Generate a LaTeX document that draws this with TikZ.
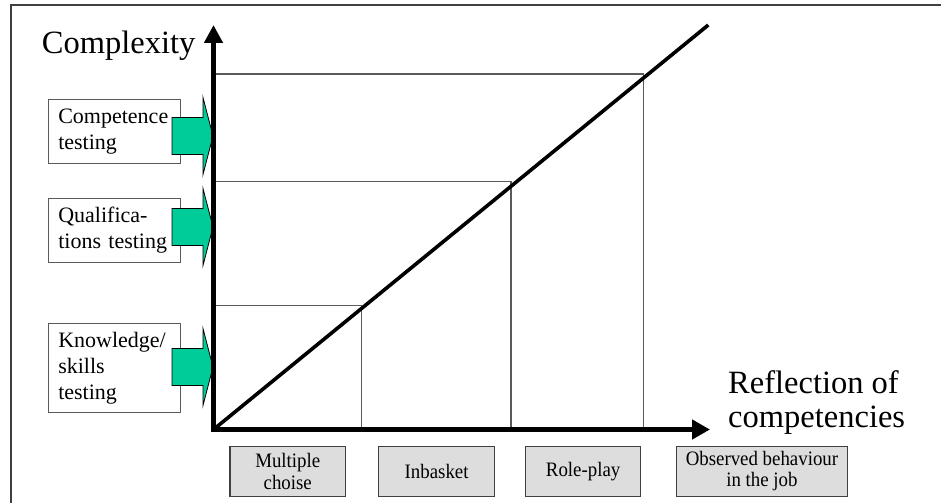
\documentclass[tikz,border=0pt]{standalone}
\usepackage{fontspec}
\setmainfont{Liberation Serif}
\newfontfamily\narrowserif[FakeStretch=0.92]{Liberation Serif}
\usetikzlibrary{arrows.meta}
\definecolor{arrowgreen}{RGB}{0,204,153}
\definecolor{framegray}{RGB}{64,64,64}
\definecolor{gridgray}{RGB}{90,90,90}
\definecolor{boxfill}{RGB}{221,221,221}
\newcommand\testarrow[1]{\draw[fatarrow] (#1) -- ++(-10,-38.5) -- ++(0,20) -- ++(-31,0) -- ++(0,37) -- ++(31,0) -- ++(0,20) -- cycle;}
\begin{document}
\begin{tikzpicture}[x=1pt,y=-1pt,
  frame/.style={draw=framegray, line width=1.6pt},
  axis/.style={line width=4.5pt, line join=miter, {Triangle[length=18pt,width=18pt]}-{Triangle[length=18pt,width=19pt]}},
  gridline/.style={draw=gridgray, line width=1.2pt},
  diagline/.style={line width=3.6pt},
  lefttest/.style={draw=gridgray, line width=1.2pt, fill=white, anchor=north west, text width=112pt, inner xsep=10pt, inner ysep=0pt, align=left, font=\fontsize{22}{26}\selectfont},
  method/.style={draw=framegray, line width=1.2pt, fill=boxfill, anchor=north west, minimum height=50pt, inner sep=0pt, align=center, font=\narrowserif\fontsize{20.5}{21.5}\selectfont},
  fatarrow/.style={draw=black, line width=0.8pt, fill=arrowgreen, line join=miter},
  biglabel/.style={inner sep=0pt, font=\fontsize{32.5}{34}\selectfont, align=left}
]
\useasboundingbox (0,0) rectangle (941,503);
\draw[frame] (11,503) -- (11,5) -- (941,5);

% axes corner and ends
\coordinate (O) at (213.5,429.5);
\coordinate (ytip) at (213.5,25);
\coordinate (xtip) at (710,429.5);

% grid cells
\draw[gridline] (213.5,305.7) -| (361.7,429.5);
\draw[gridline] (213.5,181.7) -| (511,429.5);
\draw[gridline] (213.5,74) -| (643.3,429.5);

% left test boxes
\node[lefttest, minimum height=63.7pt] (comp) at (47.7,99) {Competence\\testing};
\node[lefttest, minimum height=63.7pt] (qual) at (47.7,198) {Qualifica-\\tions testing};
\node[lefttest, minimum height=89.5pt] (know) at (47.7,322.7) {Knowledge/\\skills\\testing};

% green arrows
\coordinate (t1) at (213,136);
\coordinate (t2) at (213,227);
\coordinate (t3) at (213,367);
\testarrow{t1}
\testarrow{t2}
\testarrow{t3}

% diagonal
\draw[diagline] (O) -- (708.3,25);

% axes
\draw[axis] (ytip) -- (O) -- (xtip);

% labels
\node[biglabel, anchor=base west] (ylab) at (41.7,53.3) {Complexity};
\node[biglabel, anchor=north west] (xlab) at (728,370.5) {Reflection of\\competencies};

% method boxes
\node[method, minimum width=115.7pt] (mc) at (229.3,445.7) {Multiple\\choise};
\node[method, minimum width=116pt] (ib) at (378,445.7) {Inbasket};
\node[method, minimum width=115pt] (rp) at (525,445.7) {Role-play};
\node[method, minimum width=170.7pt] (ob) at (676,445.7) {Observed behaviour\\in the job};
\end{tikzpicture}
\end{document}
